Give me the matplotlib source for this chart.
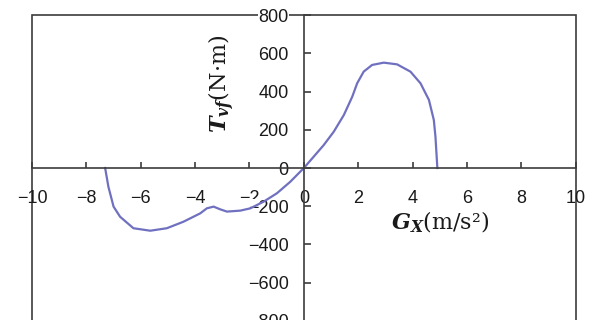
import numpy as np
import matplotlib.pyplot as plt

# curve (Gx in m/s^2, Tvf in N*m)
gx_neg = [-7.31, -7.19, -7.00, -6.76, -6.27, -5.65, -5.04, -4.43, -3.81, -3.57,
          -3.32, -3.08, -2.83, -2.34, -1.97, -1.48, -0.99, -0.50, 0.0]
tvf_neg = [0, -98, -202, -255, -315, -328, -315, -281, -237, -211,
           -202, -216, -228, -223, -211, -176, -132, -72, 0]
gx_pos = [0.36, 0.73, 1.10, 1.47, 1.78, 1.96, 2.20, 2.51, 2.94, 3.43,
          3.92, 4.29, 4.60, 4.78, 4.84, 4.91]
tvf_pos = [59, 120, 190, 277, 373, 443, 504, 539, 551, 542,
           504, 443, 356, 251, 164, 0]

xticks = [-10, -8, -6, -4, -2, 0, 2, 4, 6, 8, 10]
yticks = [-800, -600, -400, -200, 0, 200, 400, 600, 800]

plt.rcParams['mathtext.fontset'] = 'custom'
plt.rcParams['mathtext.it'] = 'DejaVu Serif:bold:italic'
plt.rcParams['mathtext.rm'] = 'DejaVu Serif'

fig = plt.figure(figsize=(5.96, 3.2), dpi=100)
ax = fig.add_axes([0.0537, -0.003, 0.9123, 0.956])

frame = '#3c3c3c'
ax.plot(gx_neg + gx_pos, tvf_neg + tvf_pos, color='#7070c0', lw=1.6)

ax.set_xlim(-10, 10)
ax.set_ylim(-800, 800)
ax.set_xticks(xticks)
ax.set_yticks(yticks)

# axes crossing at the origin, full box drawn by the patch edge
ax.spines['left'].set_position(('data', 0))
ax.spines['bottom'].set_position(('data', 0))
ax.spines['top'].set_visible(False)
ax.spines['right'].set_visible(False)
for s in ['left', 'bottom']:
    ax.spines[s].set_color(frame)
    ax.spines[s].set_linewidth(1.2)
ax.patch.set_edgecolor(frame)
ax.patch.set_linewidth(1.2)

ax.tick_params(axis='x', direction='in', length=4, width=1.2, color=frame,
               pad=16, labelsize=13, labelcolor='#1a1a1a')
ax.tick_params(axis='y', direction='in', length=5, width=1.2, color=frame,
               pad=11, labelsize=13, labelcolor='#1a1a1a')
for lab in ax.get_xticklabels() + ax.get_yticklabels():
    lab.set_fontfamily('Liberation Sans')
for lab in ax.get_yticklabels():
    lab.set_bbox(dict(facecolor='white', edgecolor='none', pad=0.5))

ax.text(-3.0, 439, r'$T_{vf}$(N·m)', rotation=90, ha='center', va='center',
        fontsize=16, fontfamily='DejaVu Serif', color='#1a1a1a')
ax.text(5.0, -282, r'$G_{X}$(m/s²)', ha='center', va='center',
        fontsize=16, fontfamily='DejaVu Serif', color='#1a1a1a')

fig.savefig('out.png', dpi=100)
